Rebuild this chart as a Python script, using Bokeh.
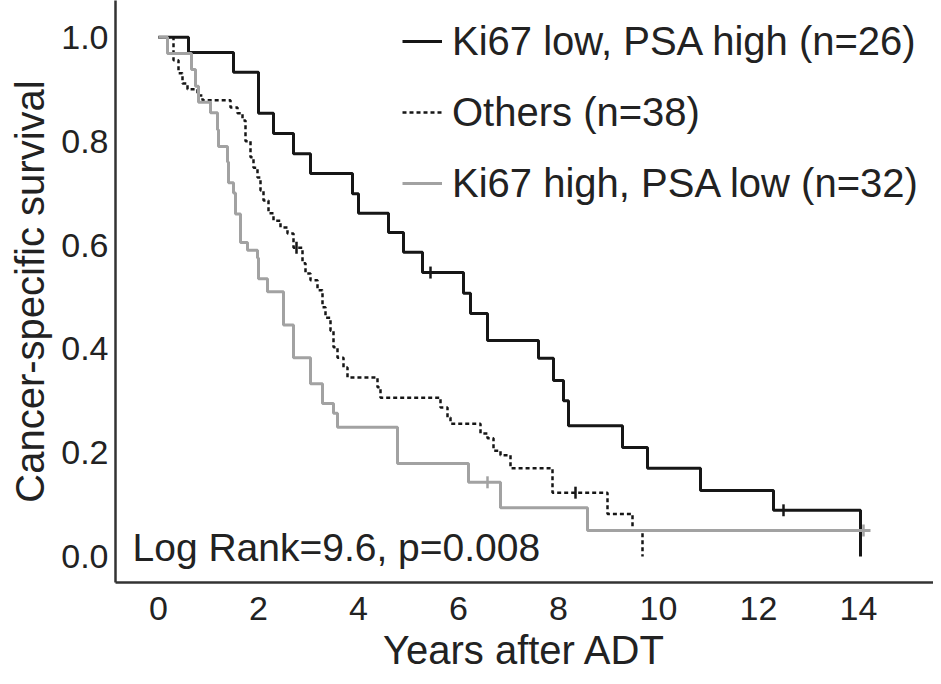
import math
from bokeh.plotting import figure
from bokeh.models import Range1d, Legend, LegendItem, Label, FixedTicker, PrintfTickFormatter
from bokeh.embed import file_html
from bokeh.resources import INLINE

# ---- data ----
x_ticks = [0, 2, 4, 6, 8, 10, 12, 14]
y_ticks = [0.0, 0.2, 0.4, 0.6, 0.8, 1.0]

# Ki67 low, PSA high (n=26)
low_t = [0, 0.6, 1.5, 2.0, 2.3, 2.7, 3.04, 3.88, 4.0, 4.6, 4.9, 5.28, 6.1, 6.24, 6.58,
         7.6, 7.9, 8.1, 8.2, 9.28, 9.78, 10.84, 12.3, 14.04]
low_s = [1.0, 0.971, 0.933, 0.854, 0.815, 0.776, 0.738, 0.699, 0.661, 0.624, 0.586, 0.547,
         0.507, 0.468, 0.416, 0.382, 0.339, 0.30, 0.252, 0.210, 0.170, 0.127, 0.089, 0.0]
low_cens_t = [5.44, 12.5]
low_cens_s = [0.547, 0.089]

# Others (n=38)
oth_t = [0, 0.3, 0.4, 0.48, 0.58, 0.78, 0.88, 1.44, 1.58, 1.68, 1.74, 1.84, 1.9, 1.98, 2.04,
         2.1, 2.2, 2.3, 2.44, 2.58, 2.7, 2.88, 2.94, 3.04, 3.18, 3.28, 3.34, 3.44, 3.5,
         3.58, 3.7, 3.78, 4.38, 4.44, 5.64, 5.78, 5.84, 6.44, 6.58, 6.7, 6.84, 7.04, 7.88,
         8.98, 9.48, 9.68]
oth_s = [1.0, 0.956, 0.931, 0.911, 0.90, 0.888, 0.879, 0.865, 0.854, 0.84, 0.80, 0.769,
         0.749, 0.73, 0.705, 0.686, 0.661, 0.647, 0.634, 0.622, 0.595, 0.565, 0.545, 0.532,
         0.513, 0.480, 0.46, 0.435, 0.403, 0.383, 0.364, 0.345, 0.326, 0.306, 0.287, 0.268,
         0.256, 0.237, 0.228, 0.204, 0.195, 0.17, 0.123, 0.082, 0.05, 0.0]
oth_cens_t = [2.76, 8.34]
oth_cens_s = [0.595, 0.123]

# Ki67 high, PSA low (n=32)
high_t = [0, 0.18, 0.66, 0.74, 0.8, 1.04, 1.18, 1.2, 1.38, 1.4, 1.5, 1.54, 1.64, 1.78,
          1.98, 2.0, 2.18, 2.5, 2.7, 3.04, 3.28, 3.5, 3.58, 4.78, 6.2, 6.84, 8.58, 14.24]
high_s = [1.0, 0.969, 0.938, 0.906, 0.875, 0.855, 0.822, 0.79, 0.76, 0.72, 0.70, 0.66,
          0.605, 0.59, 0.575, 0.535, 0.51, 0.446, 0.383, 0.333, 0.295, 0.276, 0.249, 0.179,
          0.143, 0.094, 0.05, 0.05]
high_cens_t = [6.58, 14.1]
high_cens_s = [0.143, 0.05]

labels = ["Ki67 low, PSA high (n=26)", "Others (n=38)", "Ki67 high, PSA low (n=32)"]

FONT = "Liberation Sans"
TXT = "#222222"
BLACK = "#161616"
GRAY = "#a2a2a2"

p = figure(width=933, height=676, output_backend="svg", toolbar_location=None,
           x_range=Range1d(-0.86, 15.5), y_range=Range1d(-0.05, 1.071),
           min_border_left=115, min_border_bottom=94, min_border_top=0, min_border_right=0)
p.grid.visible = False
p.outline_line_color = None
p.background_fill_color = "white"
p.border_fill_color = "white"

for ax in (p.xaxis[0], p.yaxis[0]):
    ax.axis_line_color = "#333333"
    ax.axis_line_width = 2.5
    ax.major_tick_line_color = None
    ax.minor_tick_line_color = None
    ax.major_tick_out = 0
    ax.major_tick_in = 0
    ax.major_label_text_font = FONT
    ax.major_label_text_font_size = "34px"
    ax.major_label_text_color = TXT
    ax.axis_label_text_font = FONT
    ax.axis_label_text_font_size = "40px"
    ax.axis_label_text_font_style = "normal"
    ax.axis_label_text_color = TXT

p.xaxis.ticker = FixedTicker(ticks=x_ticks)
p.yaxis.ticker = FixedTicker(ticks=y_ticks)
p.yaxis.formatter = PrintfTickFormatter(format="%.1f")
p.xaxis.axis_label = "Years after ADT"
p.yaxis.axis_label = "Cancer-specific survival"
p.yaxis.major_label_standoff = 7
p.xaxis.major_label_standoff = 14
p.yaxis.axis_label_standoff = 6
p.xaxis.axis_label_standoff = 5

r_low = p.step(low_t, low_s, mode="after", line_color=BLACK, line_width=3)
r_oth = p.step(oth_t, oth_s, mode="after", line_color=BLACK, line_width=2.5, line_dash="4 3")
r_high = p.step(high_t, high_s, mode="after", line_color=GRAY, line_width=3)

p.scatter(low_cens_t, low_cens_s, marker="dash", angle=math.pi / 2, size=12,
          line_color=BLACK, line_width=2.5)
p.scatter(oth_cens_t, oth_cens_s, marker="dash", angle=math.pi / 2, size=12,
          line_color=BLACK, line_width=2.5)
p.scatter(high_cens_t, high_cens_s, marker="dash", angle=math.pi / 2, size=12,
          line_color=GRAY, line_width=2.5)

legend = Legend(items=[LegendItem(label=labels[0], renderers=[r_low]),
                       LegendItem(label=labels[1], renderers=[r_oth]),
                       LegendItem(label=labels[2], renderers=[r_high])],
                location=(287, 376))
legend.label_text_font = FONT
legend.label_text_font_size = "40px"
legend.label_text_color = TXT
legend.label_height = 46
legend.glyph_height = 30
legend.glyph_width = 40
legend.label_standoff = 10
legend.spacing = 25
legend.padding = 0
legend.margin = 0
legend.border_line_color = None
legend.background_fill_alpha = 0
p.add_layout(legend)

p.add_layout(Label(x=-0.52, y=0.017, text="Log Rank=9.6, p=0.008", text_font=FONT,
                   text_font_size="39px", text_color=TXT, text_baseline="middle"))

open("out.html", "w").write(file_html(p, INLINE))
